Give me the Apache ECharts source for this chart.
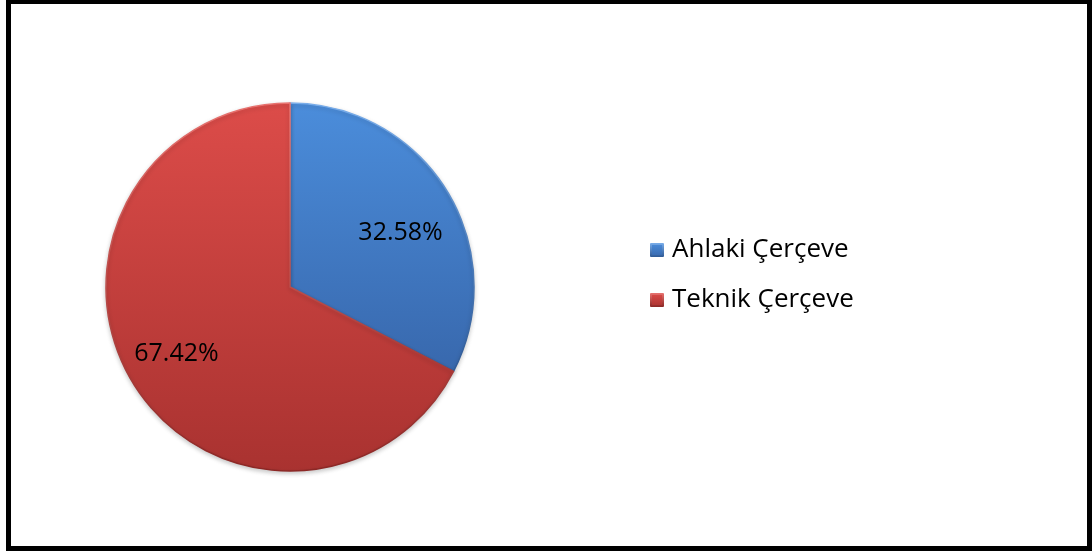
<!DOCTYPE html>
<html>
<head>
<meta charset="utf-8">
<script src="https://cdn.jsdelivr.net/npm/echarts@6/dist/echarts.min.js"></script>
<style>
  html, body { margin: 0; padding: 0; background: #fff; }
  #chart { width: 1092px; height: 554px; }
</style>
</head>
<body>
<div id="chart"></div>
<script>
  // data
  const categories = ['Ahlaki Çerçeve', 'Teknik Çerçeve'];
  const shares = [32.58, 67.42];
  const topColors = ['#4b8ddb', '#dc4c49'];
  const bottomColors = ['#3868ad', '#a93230'];
  const edgeTop = ['#79adea', '#e8726f'];
  const edgeBottom = ['#2f5a96', '#8c2725'];

  const fontFamily = '"Open Sans", "Liberation Sans", sans-serif';

  function grad(a, b) {
    return new echarts.graphic.LinearGradient(0, 0, 0, 1, [
      { offset: 0, color: a },
      { offset: 1, color: b }
    ]);
  }

  const pieData = categories.map((name, i) => ({
    name: name,
    value: shares[i],
    itemStyle: {
      color: grad(topColors[i], bottomColors[i]),
      borderColor: grad(edgeTop[i], edgeBottom[i])
    }
  }));

  const chart = echarts.init(document.getElementById('chart'), null, { renderer: 'canvas' });
  chart.setOption({
    backgroundColor: '#ffffff',
    animation: false,
    graphic: [{
      type: 'rect',
      shape: { x: 8.5, y: 1.5, width: 1081, height: 547 },
      style: { fill: 'none', stroke: '#000', lineWidth: 5 },
      z: 100
    }],
    legend: {
      orient: 'vertical',
      left: 650,
      top: 237,
      padding: 0,
      itemWidth: 12,
      itemHeight: 12,
      itemGap: 24,
      icon: 'rect',
      textStyle: { fontFamily: fontFamily, fontSize: 26, color: '#000', padding: [0, 0, 0, 4] },
      data: categories
    },
    series: [{
      type: 'pie',
      center: [290, 287],
      radius: [0, 184],
      startAngle: 90,
      clockwise: true,
      label: { show: false },
      labelLine: { show: false },
      itemStyle: {
        borderWidth: 1.5,
        shadowColor: 'rgba(0,0,0,0.2)',
        shadowBlur: 4,
        shadowOffsetY: 2
      },
      emphasis: { disabled: true },
      data: pieData
    }, {
      // label-only ring so the percentages sit at ~0.7 of the radius
      type: 'pie',
      center: [290, 287],
      radius: [76, 184],
      startAngle: 90,
      clockwise: true,
      silent: true,
      legendHoverLink: false,
      itemStyle: { color: 'rgba(0,0,0,0)' },
      label: {
        show: true,
        position: 'inside',
        formatter: p => shares[p.dataIndex].toFixed(2) + '%',
        fontFamily: fontFamily,
        fontSize: 25,
        color: '#000'
      },
      labelLine: { show: false },
      emphasis: { disabled: true },
      data: categories.map((name, i) => ({
        name: name,
        value: shares[i],
        label: { offset: i === 0 ? [-3, 15] : [0, -2] }
      }))
    }]
  });
</script>
</body>
</html>
